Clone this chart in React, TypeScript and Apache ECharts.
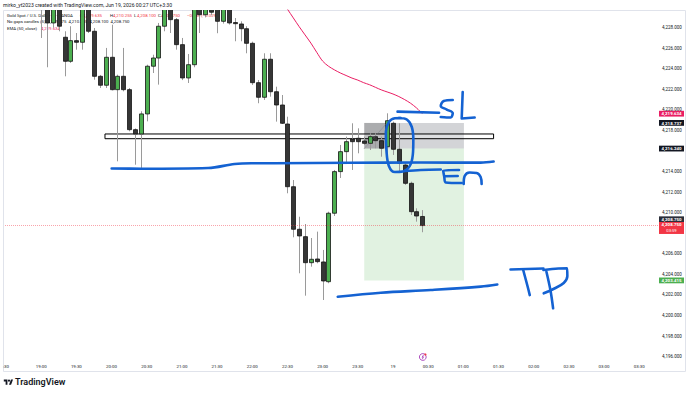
import { useEffect, useRef } from "react";
import * as echarts from "echarts";

// ---------- data (5-minute candles, slot 0 = 19:00) ----------
const firstCandleTime = "19:00";
const opens = [
  4230.9, 4230.9, 4228.46, 4230.6, 4227.07, 4224.73, 4226.74, 4226.58, 4230.6, 4227.65,
  4223.27, 4222.4, 4225.12, 4221.97, 4223.27, 4221.97, 4218.08, 4217.66, 4219.61, 4224.25,
  4225.05, 4228.14, 4230.6, 4228.78, 4226.35, 4223.11, 4224.4, 4230.6, 4229.26, 4230.6,
  4230.6, 4228.62, 4230.6, 4228.5, 4228.36, 4227.9, 4226.48, 4222.65, 4221.23, 4224.93,
  4221.77, 4220.48, 4218.63, 4212.53, 4208.39, 4207.67, 4205.14, 4205.5, 4205.21, 4203.29,
  4209.95, 4214.0, 4215.94, 4217.17, 4217.24, 4216.98, 4216.75, 4217.4, 4217.01, 4216.42,
  4218.7, 4216.17, 4214.64, 4212.86, 4210.1, 4209.635,
];
const closes = [
  4230.3, 4228.46, 4230.6, 4228.14, 4224.73, 4226.74, 4226.58, 4230.6, 4227.65, 4223.27,
  4222.4, 4225.12, 4221.97, 4223.27, 4221.97, 4218.08, 4217.66, 4219.61, 4224.25, 4225.05,
  4228.14, 4230.6, 4228.78, 4226.35, 4223.11, 4224.4, 4230.6, 4229.26, 4230.6, 4229.5,
  4228.62, 4230.6, 4228.46, 4228.39, 4227.9, 4226.48, 4222.65, 4221.23, 4224.93, 4221.77,
  4220.48, 4218.7, 4212.53, 4208.39, 4207.74, 4205.14, 4205.47, 4205.24, 4203.36, 4209.95,
  4214.0, 4215.94, 4216.91, 4216.91, 4216.91, 4216.75, 4217.4, 4217.01, 4216.27, 4218.95,
  4216.17, 4214.81, 4212.86, 4210.1, 4209.68, 4208.75,
];
const highs = [
  4231.2, 4231.3, 4231.3, 4231.3, 4227.65, 4228.14, 4227.48, 4231.3, 4231.3, 4227.97,
  4223.4, 4226.03, 4228.29, 4223.43, 4226.03, 4222.13, 4218.2, 4219.87, 4224.4, 4225.37,
  4228.46, 4231.3, 4231.3, 4228.94, 4227.0, 4225.44, 4231.3, 4231.3, 4231.3, 4231.3,
  4231.3, 4231.3, 4231.3, 4228.94, 4228.62, 4228.14, 4226.64, 4222.91, 4225.51, 4225.51,
  4222.26, 4221.45, 4219.34, 4213.18, 4209.61, 4208.9, 4207.54, 4208.16, 4206.38, 4210.1,
  4214.16, 4216.59, 4217.4, 4218.7, 4218.21, 4217.4, 4217.73, 4217.73, 4217.4, 4219.67,
  4218.86, 4218.7, 4214.81, 4213.02, 4210.43, 4210.255,
];
const lows = [
  4227.0, 4224.15, 4228.0, 4227.65, 4223.27, 4224.57, 4225.86, 4225.86, 4227.48, 4222.94,
  4222.13, 4222.13, 4221.9, 4215.0, 4221.81, 4217.92, 4214.67, 4214.19, 4218.89, 4223.59,
  4222.46, 4227.65, 4227.48, 4225.86, 4222.9, 4222.62, 4224.15, 4227.48, 4229.0, 4229.2,
  4227.46, 4228.4, 4228.3, 4226.68, 4226.68, 4225.51, 4222.43, 4220.65, 4220.97, 4221.29,
  4218.86, 4218.63, 4211.89, 4207.61, 4204.11, 4201.93, 4204.75, 4205.08, 4201.51, 4203.14,
  4209.68, 4213.38, 4214.81, 4214.16, 4215.78, 4216.59, 4216.1, 4216.27, 4215.45, 4215.45,
  4215.62, 4213.99, 4212.7, 4209.78, 4209.13, 4208.1,
];

// EMA(50, close) visible part, starting at slot 41
const emaStartSlot = 41;
const emaValues = [
  4230.6, 4229.8, 4228.95, 4228.1, 4227.3, 4226.5, 4225.6, 4224.75, 4224.25, 4223.9,
  4223.6, 4223.35, 4223.1, 4222.9, 4222.65, 4222.45, 4222.2, 4221.95, 4221.75, 4221.55,
  4221.3, 4221.0, 4220.65, 4220.2, 4219.634,
];

// axis ticks (first one is cut at the chart's left edge in the picture)
const xTickLabels = [
  ":30", "19:00", "19:30", "20:00", "20:30", "21:00", "21:30", "22:00", "22:30", "23:00",
  "23:30", "19", "00:30", "01:00", "01:30", "02:00", "02:30", "03:00", "03:30",
];
const xTickFirstSlot = -6;
const xTickStep = 6;
const yTickValues = [4196, 4198, 4200, 4202, 4204, 4206, 4210, 4212, 4214, 4218, 4220, 4222, 4224, 4226, 4228];

// levels
const emaLast = 4219.634;
const stopPrice = 4218.737;
const entryPrice = 4216.24;
const targetPrice = 4203.415;
const lastPrice = 4208.75;
const countdown = "03:59";
const zoneTop = 4217.66;
const zoneBottom = 4217.2;
const zoneStartSlot = 10.88;
const zoneEndSlot = 77.16;
const posStartSlot = 55.1;
const posHitSlot = 59.1;
const posEndSlot = 72.1;

// hand-drawn strokes in [slot, price]
const strokes: number[][][] = [
  [[12.02, 4214.3], [17.13, 4214.28], [28.47, 4214.35], [32.99, 4214.74], [35.83, 4214.81], [39.74, 4214.81], [52.84, 4214.86], [64.74, 4214.88], [74.95, 4214.87], [77.16, 4214.98]],
  [[61.0, 4219.22], [62.36, 4219.07], [63.21, 4218.34], [63.47, 4217.08], [63.38, 4215.62], [62.87, 4214.55], [61.68, 4214.01], [60.32, 4213.96], [59.3, 4214.55], [58.88, 4216.1], [58.79, 4217.85], [59.3, 4218.83], [60.32, 4219.19], [61.34, 4219.22]],
  [[62.02, 4214.06], [64.74, 4214.16], [68.15, 4214.21]],
  [[60.78, 4219.83], [67.86, 4219.73]],
  [[70.19, 4220.97], [68.66, 4220.87], [68.15, 4220.38], [69.17, 4220.04], [70.19, 4219.7], [69.85, 4219.26], [68.15, 4219.31]],
  [[71.89, 4221.75], [71.72, 4219.17], [73.93, 4219.26]],
  [[71.26, 4214.16], [68.57, 4214.11], [68.74, 4213.53], [68.99, 4212.94], [71.72, 4212.89]],
  [[68.83, 4213.55], [71.04, 4213.57]],
  [[72.06, 4212.8], [72.23, 4213.57], [73.08, 4213.91], [74.27, 4213.87], [74.95, 4213.48], [75.12, 4212.8]],
  [[50.58, 4201.83], [57.94, 4202.22], [66.45, 4202.48], [74.95, 4202.81], [77.79, 4203.02]],
  [[80.05, 4204.48], [85.66, 4204.58]],
  [[82.21, 4204.43], [82.94, 4202.87], [83.33, 4201.99]],
  [[86.17, 4204.26], [86.85, 4202.48], [87.31, 4200.7]],
  [[85.66, 4204.43], [88.21, 4204.58], [89.69, 4204.6], [89.74, 4203.85], [89.12, 4203.17], [87.36, 4202.58], [85.71, 4202.16]],
];

const FONT = "Roboto, 'Liberation Sans', Arial, sans-serif";
const TEXT = "#131722";

function fmtPrice(v: number): string {
  const [i, d] = v.toFixed(3).split(".");
  return i.replace(/\B(?=(\d{3})+$)/g, ",") + "." + d;
}

echarts.graphic.registerShape(
  "tvlogo",
  echarts.graphic.extendPath(
    "M14 22H7V11H0V4h14v18zM28 22h-8l7.5-18h8L28 22zM20 4a4 4 0 1 1 0 8a4 4 0 1 1 0-8z",
    {}
  ) as any
);

export default function App() {
  const ref = useRef<HTMLDivElement>(null);
  useEffect(() => {
    document.body.style.margin = "0";
    const chart = echarts.init(ref.current!, null, { renderer: "svg" });
    void firstCandleTime;
    const candleData = opens.map((o, i) => [i, o, closes[i], lows[i], highs[i]]);

    const strokeSeries = strokes.map((pts) => ({
      type: "line",
      data: pts,
      smooth: 0.35,
      symbol: "none",
      silent: true,
      z: 10,
      lineStyle: { color: "#1462d2", width: 2.6, cap: "round", join: "round" },
    }));

    const option: any = {
      animation: false,
      backgroundColor: "#ffffff",
      grid: { left: 3, right: 32, top: 10, bottom: 35 },
      xAxis: {
        type: "value",
        min: -6.17,
        max: 105.2,
        axisLine: { show: false },
        axisTick: { show: false },
        splitLine: { show: false },
        axisLabel: {
          customValues: xTickLabels.map((_, i) => xTickFirstSlot + i * xTickStep),
          formatter: (v: number) => xTickLabels[Math.round((v - xTickFirstSlot) / xTickStep)] ?? "",
          fontSize: 4.4,
          fontFamily: FONT,
          color: TEXT,
          margin: 5,
          showMinLabel: true,
          showMaxLabel: true,
          hideOverlap: false,
        },
      },
      yAxis: {
        type: "value",
        position: "right",
        min: 4195.77,
        max: 4229.72,
        scale: true,
        axisLine: { show: false },
        axisTick: { show: false },
        splitLine: { show: false },
        axisLabel: {
          customValues: yTickValues,
          formatter: (v: number) => fmtPrice(v),
          fontSize: 4.5,
          fontFamily: FONT,
          color: TEXT,
          margin: 4,
          showMinLabel: true,
          showMaxLabel: true,
          hideOverlap: false,
        },
      },
      series: [
        {
          type: "line",
          name: "zones",
          data: [],
          z: 1,
          silent: true,
          markArea: {
            silent: true,
            label: { show: false },
            data: [
              [
                { coord: [posStartSlot, stopPrice], itemStyle: { color: "rgba(120,123,134,0.33)" } },
                { coord: [posEndSlot, entryPrice] },
              ],
              [
                { coord: [posStartSlot, stopPrice], itemStyle: { color: "rgba(80,80,80,0.3)" } },
                { coord: [posHitSlot, entryPrice] },
              ],
              [
                { coord: [posStartSlot, entryPrice], itemStyle: { color: "rgba(76,175,80,0.17)" } },
                { coord: [posEndSlot, targetPrice] },
              ],
            ],
          },
          markLine: {
            silent: true,
            symbol: ["none", "none"],
            label: { show: false },
            lineStyle: { type: "dotted", color: "rgba(242,54,69,0.45)", width: 1 },
            data: [{ yAxis: lastPrice }],
          },
        },
        {
          type: "custom",
          name: "candles",
          z: 3,
          clip: true,
          encode: { x: 0, y: [1, 2, 3, 4] },
          data: candleData,
          renderItem: (_p: any, api: any) => {
            const x = api.value(0);
            const o = api.value(1);
            const c = api.value(2);
            const l = api.value(3);
            const h = api.value(4);
            const po = api.coord([x, o]);
            const pc = api.coord([x, c]);
            const pl = api.coord([x, l]);
            const ph = api.coord([x, h]);
            const cx = Math.round(po[0]);
            const w = 4;
            const top = Math.min(po[1], pc[1]);
            const hh = Math.max(Math.abs(po[1] - pc[1]), 1);
            const bull = c >= o;
            return {
              type: "group",
              children: [
                {
                  type: "line",
                  shape: { x1: cx + 0.5, y1: ph[1], x2: cx + 0.5, y2: pl[1] },
                  style: { stroke: "#9a9a9a", lineWidth: 1 },
                },
                {
                  type: "rect",
                  shape: { x: cx + 0.5 - w / 2, y: top, width: w, height: hh },
                  style: { fill: bull ? "#4caf50" : "#363636", stroke: "#141414", lineWidth: 0.8 },
                },
              ],
            };
          },
        },
        {
          type: "line",
          name: "zone",
          data: [],
          z: 4,
          silent: true,
          markArea: {
            silent: true,
            label: { show: false },
            data: [
              [
                { coord: [zoneStartSlot, zoneTop], itemStyle: { color: "rgba(255,255,255,0.25)", borderColor: "#000000", borderWidth: 1 } },
                { coord: [zoneEndSlot, zoneBottom] },
              ],
            ],
          },
        },
        {
          type: "line",
          name: "position path",
          data: [[posStartSlot, entryPrice], [posHitSlot - 0.1, stopPrice]],
          symbol: "none",
          silent: true,
          z: 5,
          lineStyle: { type: "dotted", color: "#787b86", width: 0.8 },
        },
        {
          type: "line",
          name: "EMA (50, close)",
          data: emaValues.map((v, i) => [emaStartSlot + i, v]),
          smooth: 0.3,
          symbol: "none",
          silent: true,
          z: 6,
          lineStyle: { color: "#e91e63", width: 1 },
        },
        ...strokeSeries,
      ],
    };
    chart.setOption(option);

    const X = (s: number) => chart.convertToPixel({ xAxisIndex: 0 }, s) as number;
    const Y = (p: number) => chart.convertToPixel({ yAxisIndex: 0 }, p) as number;

    const g: any[] = [];
    g.push({
      type: "rect",
      silent: true,
      z: 0,
      shape: { x: 3.5, y: 10.5, width: 682, height: 361 },
      style: { fill: "none", stroke: "#e0e3eb", lineWidth: 1 },
    });
    const txt = (text: string, x: number, y: number, fill: string, size: number, extra: any = {}) => ({
      type: "text",
      silent: true,
      z: extra.z ?? 1,
      style: {
        text,
        x,
        y,
        fill,
        fontSize: size,
        fontFamily: FONT,
        fontWeight: extra.weight ?? "normal",
        textAlign: extra.align ?? "left",
        textVerticalAlign: "middle",
      },
    });
    g.push(txt("mirko_yt2023 created with TradingView.com, Jun 19, 2026 00:27 UTC+3:30", 3, 5, TEXT, 5.1));
    const red = "#f23645";
    g.push(txt("Gold Spot / U.S. Dollar · 5 · OANDA", 7, 15, TEXT, 4.3));
    const ohlc: [string, string, number][] = [
      ["O", "4,209.635", 80],
      ["H", "4,210.255", 110],
      ["L", "4,208.100", 134],
      ["C", "4,208.750", 158],
    ];
    ohlc.forEach(([k, v, x]) => {
      g.push(txt(k, x, 15, TEXT, 4.3));
      g.push(txt(v, x + 3.1, 15, red, 4.3));
    });
    g.push(txt("−0.885 (−0.02%)", 187, 15, red, 4.3));
    g.push(txt("No gaps candles (5)  4,209.675  4,210.255  4,208.100  4,208.750", 7, 21.5, TEXT, 4.3));
    g.push(txt("EMA (50, close)", 7, 28, TEXT, 4.3));
    g.push(txt(fmtPrice(emaLast), 41, 28, "#e91e63", 4.3));

    // price-scale badges
    const badge = (label: string, yc: number, fill: string, h = 5.8) => {
      g.push({
        type: "rect",
        silent: true,
        z: 50,
        shape: { x: 659, y: yc - h / 2, width: 25, height: h },
        style: { fill },
      });
      g.push(txt(label, 671.5, yc + 0.1, "#ffffff", 4.4, { align: "center", weight: "bold", z: 51 }));
    };
    badge(fmtPrice(emaLast), Y(emaLast), "#e91e63");
    badge(fmtPrice(stopPrice), Y(stopPrice), "#131722");
    badge(fmtPrice(entryPrice), Y(entryPrice), "#131722");
    badge(fmtPrice(targetPrice), Y(targetPrice), "#4caf50");
    badge(fmtPrice(lastPrice), Y(lastPrice) - 6.3, "#2a2e39");
    const lp = Y(lastPrice);
    g.push({ type: "rect", silent: true, z: 50, shape: { x: 659, y: lp - 3.6, width: 25, height: 12 }, style: { fill: red } });
    g.push(txt(fmtPrice(lastPrice), 671.5, lp - 0.6, "#ffffff", 4.4, { align: "center", weight: "bold", z: 51 }));
    g.push(txt(countdown, 671.5, lp + 5.2, "#ffffff", 4.2, { align: "center", z: 51 }));

    // events icon on the time axis
    const ix = X(65) + 0.5;
    g.push({ type: "circle", silent: true, z: 20, shape: { cx: ix, cy: 357, r: 3.4 }, style: { fill: "#ffffff", stroke: "#9c27b0", lineWidth: 0.8 } });
    g.push({
      type: "polyline",
      silent: true,
      z: 21,
      shape: { points: [[ix + 0.8, 354.8], [ix - 0.8, 357.3], [ix + 0.8, 356.8], [ix - 0.6, 359.3]] },
      style: { stroke: "#9c27b0", lineWidth: 0.7, fill: "none" },
    });
    g.push({ type: "circle", silent: true, z: 22, shape: { cx: ix + 2.6, cy: 354.5, r: 1.1 }, style: { fill: red } });

    // TradingView logo
    g.push({ type: "tvlogo", silent: true, z: 1, x: 3.8, y: 378.2, scaleX: 0.26, scaleY: 0.3, style: { fill: TEXT } });
    g.push(txt("TradingView", 15, 382.2, TEXT, 9, { weight: 600 }));

    chart.setOption({ graphic: { elements: g } });
    return () => chart.dispose();
  }, []);
  return <div ref={ref} style={{ position: "absolute", left: 0, top: 0, width: 690, height: 394, background: "#fff" }} />;
}
